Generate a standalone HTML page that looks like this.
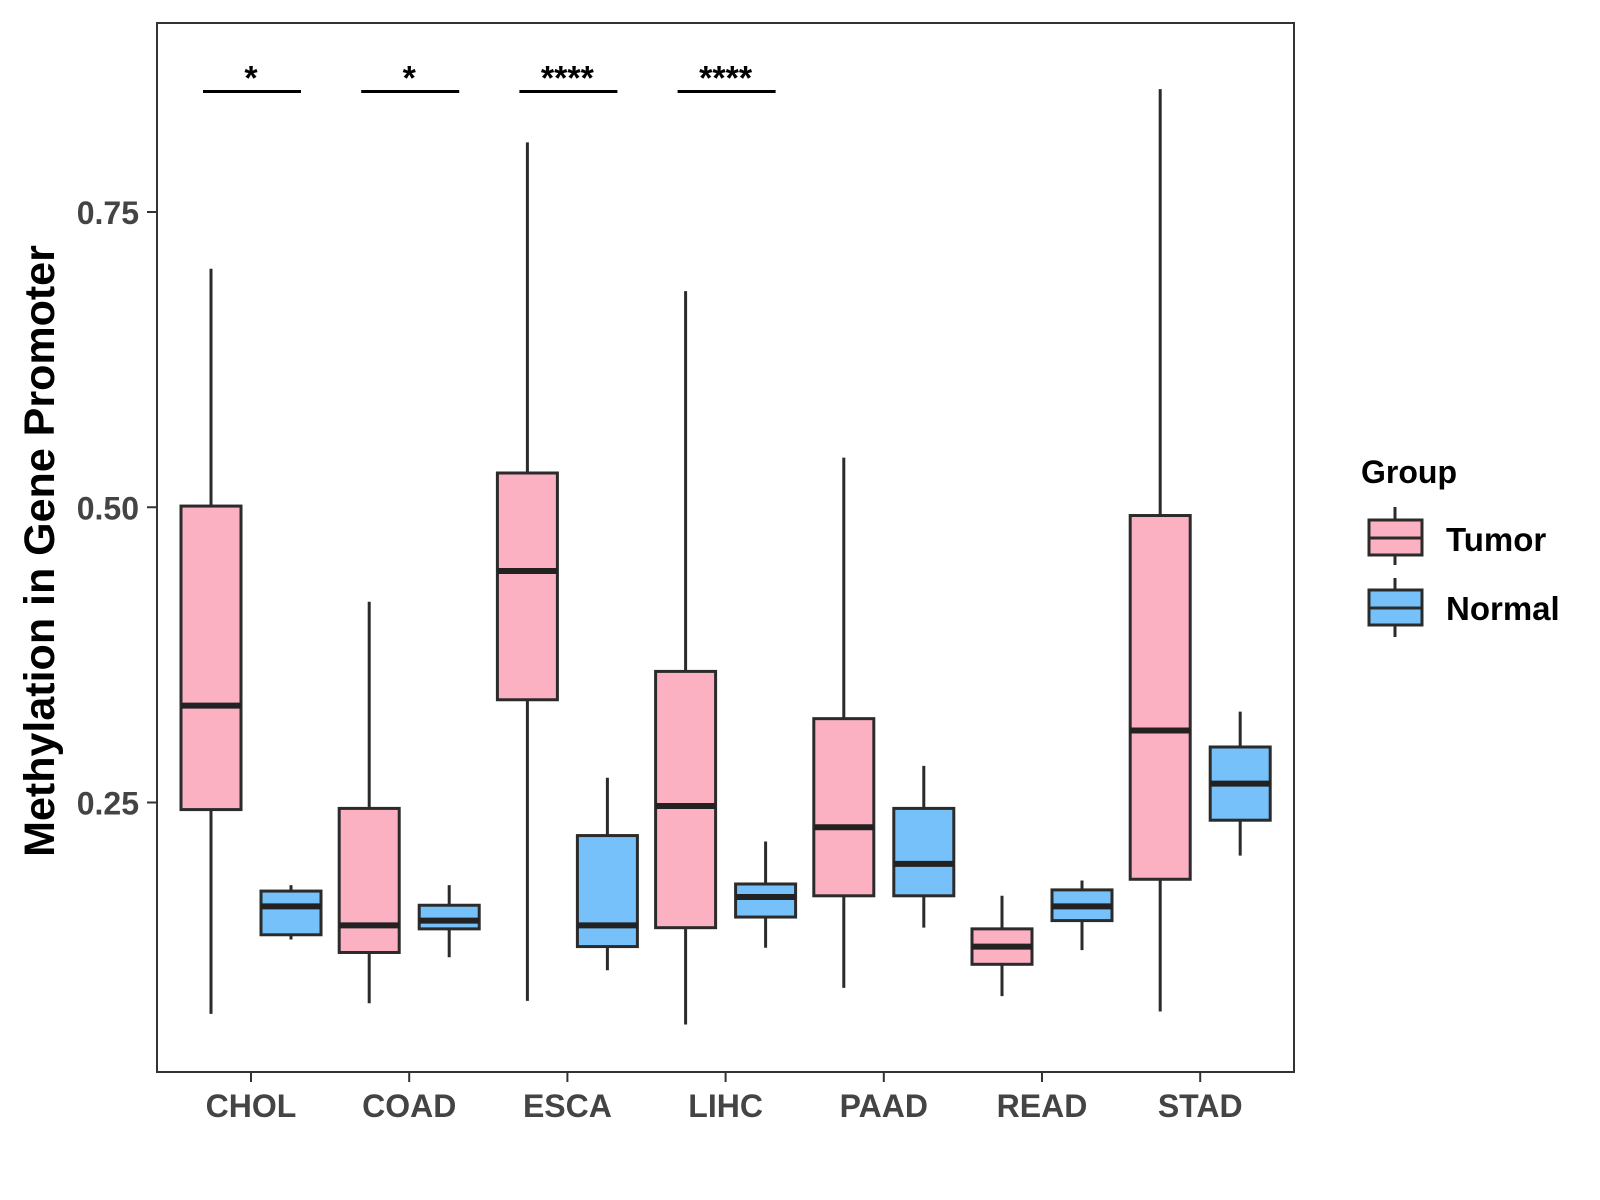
<!DOCTYPE html>
<html><head><meta charset="utf-8"><style>
body{margin:0;background:#fff}
svg{display:block;font-family:"Liberation Sans",Arial,sans-serif}
</style></head><body>
<svg id="chart" width="1600" height="1200" xmlns="http://www.w3.org/2000/svg">
<rect x="0" y="0" width="1600" height="1200" fill="#fff"/>
<g id="plot"></g>
<rect x="157" y="23" width="1137" height="1049" fill="none" stroke="#333" stroke-width="2"/>
<g id="axes"></g>
<text x="0" y="0" transform="translate(54,551) rotate(-90)" text-anchor="middle" font-size="43" font-weight="bold" fill="#000">Methylation in Gene Promoter</text>
<g transform="translate(-7,-1)">
<text x="1368" y="484" font-size="32" font-weight="bold" fill="#000">Group</text>
<g>
<line x1="1402" y1="508" x2="1402" y2="566" stroke="#2b2b2b" stroke-width="3"/>
<rect x="1376" y="521" width="53" height="35" fill="#FCB1C3" stroke="#2b2b2b" stroke-width="3"/>
<line x1="1376" y1="539" x2="1429" y2="539" stroke="#2b2b2b" stroke-width="3"/>
<text x="1453" y="552" font-size="33" font-weight="bold" fill="#000">Tumor</text>
</g>
<g>
<line x1="1402" y1="579" x2="1402" y2="638" stroke="#2b2b2b" stroke-width="3"/>
<rect x="1376" y="591" width="53" height="35" fill="#77C1FA" stroke="#2b2b2b" stroke-width="3"/>
<line x1="1376" y1="609" x2="1429" y2="609" stroke="#2b2b2b" stroke-width="3"/>
<text x="1453" y="621" font-size="33" font-weight="bold" fill="#000">Normal</text>
</g>
</g>
</svg>
<script>
const categories=["CHOL","COAD","ESCA","LIHC","PAAD","READ","STAD"];
// [low, q1, median, q3, high]
const tumor=[[0.071,0.244,0.332,0.501,0.702],[0.080,0.123,0.146,0.245,0.420],[0.082,0.337,0.446,0.529,0.809],[0.062,0.144,0.247,0.361,0.683],[0.093,0.171,0.229,0.321,0.542],[0.086,0.113,0.128,0.143,0.171],[0.073,0.185,0.311,0.493,0.854]];
const normal=[[0.134,0.138,0.162,0.175,0.180],[0.119,0.143,0.150,0.163,0.180],[0.108,0.128,0.146,0.222,0.271],[0.127,0.153,0.170,0.181,0.217],[0.144,0.171,0.198,0.245,0.281],[0.125,0.150,0.162,0.176,0.184],[0.205,0.235,0.266,0.297,0.327]];
const yTicks=[0.25,0.5,0.75];
const yTickLabels=["0.25","0.50","0.75"];
const sigLabels=["*","*","****","****","","",""];
const sigLevel=0.852;
const NS="http://www.w3.org/2000/svg";
function y(v){return 212+(0.75-v)*1181;}
function x(i){return 251+i*158.2;}
function mk(tag,attrs,parent){const e=document.createElementNS(NS,tag);for(const k in attrs)e.setAttribute(k,attrs[k]);parent.appendChild(e);return e;}
const plot=document.getElementById('plot'),axes=document.getElementById('axes');
function box(cx,d,fill,name){
 const g=mk('g',{},plot);
 
 
 mk('line',{x1:cx,x2:cx,y1:y(d[4]),y2:y(d[0]),stroke:'#2b2b2b','stroke-width':3},g);
 mk('rect',{x:cx-30,y:y(d[3]),width:60,height:y(d[1])-y(d[3]),fill:fill,stroke:'#2b2b2b','stroke-width':3},g);
 mk('line',{x1:cx-30,x2:cx+30,y1:y(d[2]),y2:y(d[2]),stroke:'#222','stroke-width':6},g);
}
categories.forEach((c,i)=>{
 box(x(i)-40,tumor[i],'#FCB1C3','box-tumor-'+c.toLowerCase());
 box(x(i)+40,normal[i],'#77C1FA','box-normal-'+c.toLowerCase());
 if(sigLabels[i]){
  const l=mk('line',{x1:x(i)-48,x2:x(i)+50,y1:y(sigLevel),y2:y(sigLevel),stroke:'#000','stroke-width':3},plot);
  
  
  const t=mk('text',{x:x(i),y:y(sigLevel)-2,'text-anchor':'middle','font-size':34,'font-weight':'bold',fill:'#000'},plot);
  t.textContent=sigLabels[i];
  
  
 }
 mk('line',{x1:x(i),x2:x(i),y1:1072,y2:1082,stroke:'#333','stroke-width':2},axes);
 const t=mk('text',{x:x(i),y:1117,'text-anchor':'middle','font-size':32,'font-weight':'bold',fill:'#444'},axes);
 t.textContent=c;
 
 
});
yTicks.forEach((v,i)=>{
 mk('line',{x1:147,x2:157,y1:y(v),y2:y(v),stroke:'#333','stroke-width':2},axes);
 const t=mk('text',{x:139,y:y(v)+12,'text-anchor':'end','font-size':32,'font-weight':'bold',fill:'#444'},axes);
 t.textContent=yTickLabels[i];
 
 
});
</script>
</body></html>
